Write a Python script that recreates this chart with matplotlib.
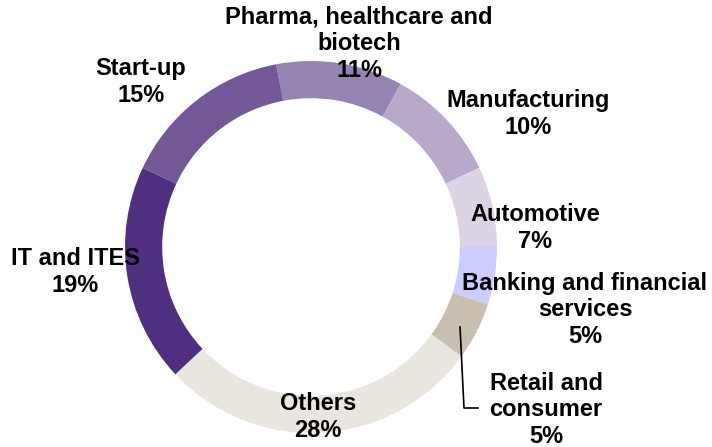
import matplotlib
matplotlib.use("Agg")
import matplotlib.pyplot as plt

categories = ["Pharma, healthcare and\nbiotech", "Manufacturing", "Automotive",
              "Banking and financial\nservices", "Retail and\nconsumer", "Others",
              "IT and ITES", "Start-up"]
values = [11, 10, 7, 5, 5, 28, 19, 15]
colors = ["#9583B4", "#B8A9CA", "#DCD4E5", "#CCCCFF", "#C8BFB0", "#E8E6DF",
          "#512F80", "#735797"]

# label centres in pixel coordinates of the 712x447 canvas
label_px = [(359, 44), (528, 114), (535, 228), (585, 310), (546, 410),
            (318, 417), (75, 272), (141, 82)]

W, H = 712, 447
CX, CY, R = 311, 247, 186

fig = plt.figure(figsize=(W / 100, H / 100), dpi=100)
ax = fig.add_axes([0, 0, 1, 1])
ax.pie(values, colors=colors, startangle=100.8, counterclock=False,
       radius=1.0, wedgeprops=dict(width=0.2, linewidth=0))
ax.set_xlim((0 - CX) / R, (W - CX) / R)
ax.set_ylim((CY - H) / R, CY / R)
ax.set_aspect("equal")
ax.axis("off")

def p2d(x, y):
    return (x - CX) / R, (CY - y) / R

for cat, val, (px, py) in zip(categories, values, label_px):
    x, y = p2d(px, py)
    ax.text(x, y, f"{cat}\n{val}%", ha="center", va="center",
            fontsize=17, fontweight="bold", family=["Liberation Sans", "DejaVu Sans"],
            linespacing=1.2, color="black")

# leader line for Retail and consumer
lx = [p2d(460, 327)[0], p2d(464, 408)[0], p2d(478, 408)[0]]
ly = [p2d(460, 327)[1], p2d(464, 408)[1], p2d(478, 408)[1]]
ax.plot(lx, ly, color="black", linewidth=1.2)

fig.savefig("out.png", dpi=100)
